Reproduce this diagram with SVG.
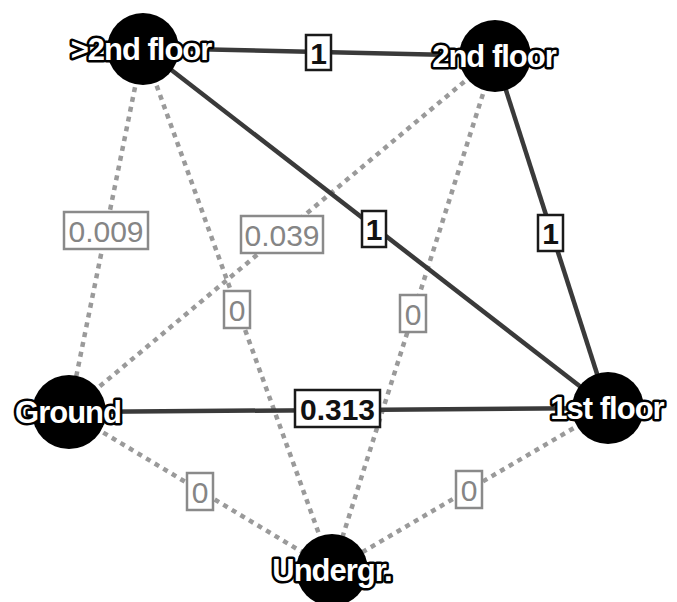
<svg xmlns="http://www.w3.org/2000/svg" width="677" height="602" viewBox="0 0 677 602">
  <style>
    .solid { stroke: #3a3a3a; stroke-width: 4.5; fill: none; }
    .dash { stroke: #9a9a9a; stroke-width: 4.5; stroke-dasharray: 5 5; fill: none; }
    .node circle { fill: #000; }
    .node text { font-family: "Liberation Sans", Arial, sans-serif; font-weight: bold; font-size: 31px; fill: #fff; stroke: #000; stroke-width: 5; paint-order: stroke; stroke-linejoin: round; text-anchor: middle; letter-spacing: -1px; }
    .lbl rect { fill: #fff; stroke-width: 2.5; }
    .lbl text { font-family: "Liberation Sans", Arial, sans-serif; font-size: 30px; text-anchor: middle; }
    .strong rect { stroke: #1a1a1a; }
    .strong text { fill: #111; font-weight: bold; }
    .weak rect { stroke: #8a8a8a; }
    .weak text { fill: #858585; }
  </style>
  <rect width="677" height="602" fill="#fff"/>

  <g id="connectors">
    <!-- weak (dashed) links -->
    <line class="dash" x1="143" y1="48" x2="69" y2="412"/>
    <line class="dash" x1="495" y1="56" x2="69" y2="412"/>
    <line class="dash" x1="143" y1="48" x2="332" y2="570"/>
    <line class="dash" x1="495" y1="56" x2="332" y2="570"/>
    <line class="dash" x1="69" y1="412" x2="332" y2="570"/>
    <line class="dash" x1="608" y1="408" x2="332" y2="570"/>
    <!-- strong (solid) links -->
    <line class="solid" x1="143" y1="48" x2="495" y2="56"/>
    <line class="solid" x1="143" y1="48" x2="608" y2="408"/>
    <line class="solid" x1="495" y1="56" x2="608" y2="408"/>
    <line class="solid" x1="69" y1="412" x2="608" y2="408"/>

    <!-- edge weights -->
    <g class="lbl weak"><rect x="64" y="212" width="84" height="37"/><text x="106" y="241.5">0.009</text></g>
    <g class="lbl weak"><rect x="241" y="216" width="82" height="37"/><text x="282" y="245.5">0.039</text></g>
    <g class="lbl weak"><rect x="224" y="291" width="26" height="37"/><text x="237" y="320.5">0</text></g>
    <g class="lbl weak"><rect x="400" y="295" width="26" height="37"/><text x="413" y="324.5">0</text></g>
    <g class="lbl weak"><rect x="187" y="473" width="26" height="37"/><text x="200" y="502.5">0</text></g>
    <g class="lbl weak"><rect x="456" y="471" width="26" height="37"/><text x="469" y="500.5">0</text></g>
    <g class="lbl strong"><rect x="306" y="35" width="25" height="35"/><text x="318.5" y="63.5">1</text></g>
    <g class="lbl strong"><rect x="362" y="211" width="24" height="36"/><text x="374" y="240">1</text></g>
    <g class="lbl strong"><rect x="538" y="215" width="25" height="36"/><text x="550.5" y="244">1</text></g>
    <g class="lbl strong"><rect x="295" y="390" width="85" height="37"/><text x="337.5" y="419.5">0.313</text></g>
  </g>

  <g id="n-above2nd" class="node"><circle cx="143" cy="49" r="36"/><text x="141" y="60">&gt;2nd floor</text></g>
  <g id="n-2nd" class="node"><circle cx="495" cy="56" r="36"/><text x="494" y="67">2nd floor</text></g>
  <g id="n-ground" class="node"><circle cx="69" cy="412" r="37"/><text x="68" y="423">Ground</text></g>
  <g id="n-1st" class="node"><circle cx="608" cy="408" r="36"/><text x="607" y="419">1st floor</text></g>
  <g id="n-undergr" class="node"><circle cx="332" cy="570" r="36"/><text x="332" y="581">Undergr.</text></g>
</svg>
